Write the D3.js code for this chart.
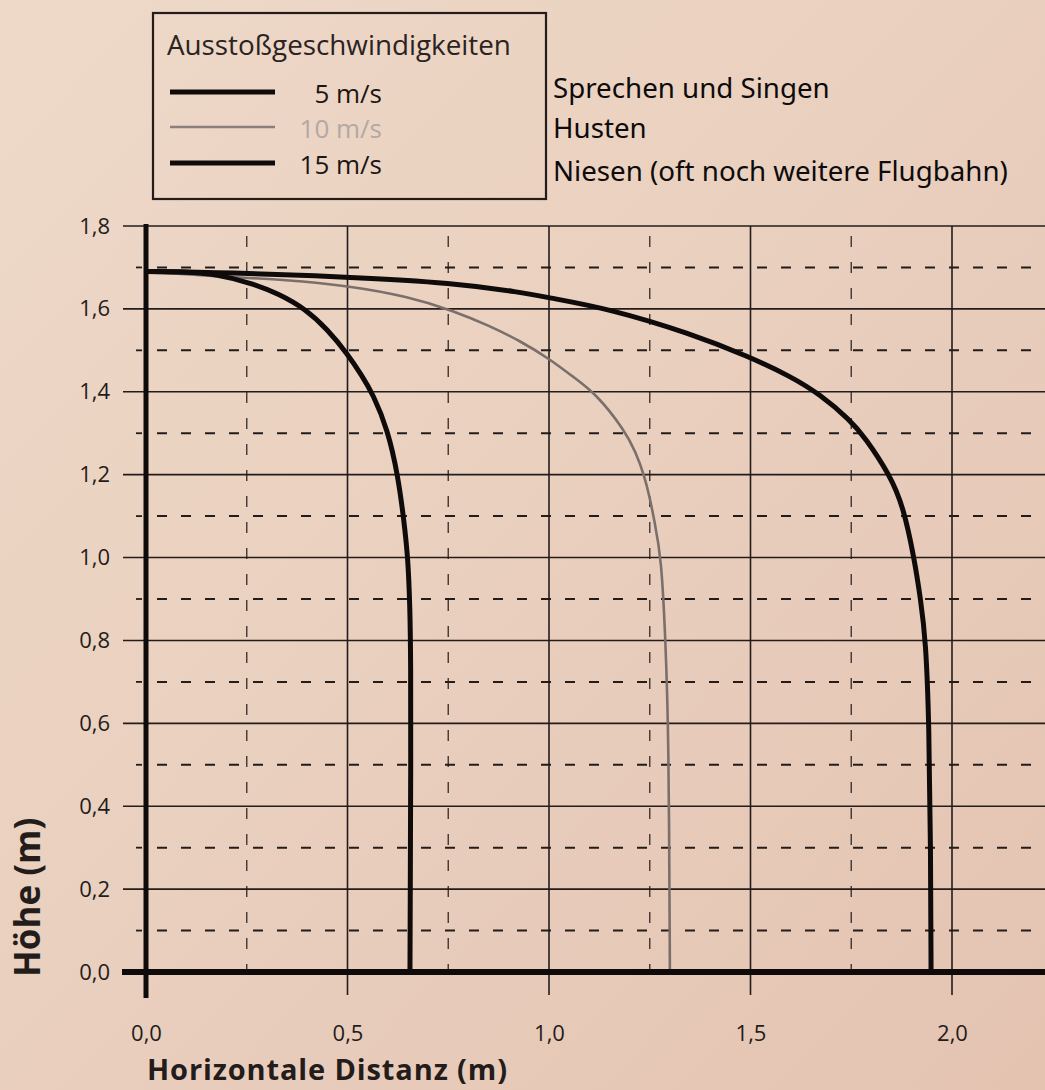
<!DOCTYPE html>
<html>
<head>
<meta charset="utf-8">
<script src="https://cdn.jsdelivr.net/npm/d3@7"></script>
<style>
  html, body { margin: 0; padding: 0; }
  body { width: 1045px; height: 1090px; overflow: hidden; }
</style>
</head>
<body>
<div class="graph"></div>
<script>
const width = 1045,
      height = 1090;

// data
const speedLabels = ["5 m/s", "10 m/s", "15 m/s"];
const noteLabels = ["Sprechen und Singen", "Husten", "Niesen (oft noch weitere Flugbahn)"];

const x5 = [0, 0.1, 0.176, 0.26, 0.33, 0.395, 0.45, 0.501, 0.535, 0.563, 0.6, 0.625, 0.64, 0.65, 0.655, 0.657, 0.657, 0.656, 0.655];
const y5 = [1.69, 1.69, 1.683, 1.663, 1.636, 1.6, 1.551, 1.49, 1.44, 1.395, 1.308, 1.199, 1.09, 1.0, 0.88, 0.75, 0.5, 0.25, 0];

const x10 = [0, 0.184, 0.35, 0.5, 0.65, 0.764, 0.85, 0.93, 1.0, 1.06, 1.117, 1.187, 1.215, 1.236, 1.25, 1.261, 1.279, 1.289, 1.297, 1.3];
const y10 = [1.69, 1.678, 1.67, 1.656, 1.63, 1.595, 1.56, 1.522, 1.48, 1.436, 1.395, 1.308, 1.255, 1.199, 1.145, 1.091, 1.0, 0.8, 0.58, 0];

const x15 = [0, 0.2, 0.5, 0.764, 0.93, 1.0, 1.15, 1.35, 1.496, 1.6, 1.672, 1.747, 1.784, 1.846, 1.879, 1.906, 1.922, 1.935, 1.943, 1.947, 1.948];
const y15 = [1.69, 1.688, 1.677, 1.663, 1.64, 1.627, 1.6, 1.541, 1.485, 1.437, 1.394, 1.332, 1.29, 1.199, 1.123, 1.0, 0.9, 0.8, 0.6, 0.3, 0];

const yMajor = [0, 0.2, 0.4, 0.6, 0.8, 1.0, 1.2, 1.4, 1.6, 1.8];
const yMinor = [0.1, 0.3, 0.5, 0.7, 0.9, 1.1, 1.3, 1.5, 1.7];
const xMajor = [0, 0.5, 1.0, 1.5, 2.0];
const xMinor = [0.25, 0.75, 1.25, 1.75];

const ink = "#231c1b";

const xScale = d3.scaleLinear().domain([0, 2]).range([146, 952]);
const yScale = d3.scaleLinear().domain([0, 1.8]).range([972, 226]);
const xRight = xScale.invert(width);

const de = d3.formatLocale({decimal: ",", thousands: ".", grouping: [3], currency: ["", " €"]});
const fmt = de.format(".1f");

const svg = d3.select(".graph")
  .append("svg")
  .attr("width", width)
  .attr("height", height);

const defs = svg.append("defs");
const grad = defs.append("linearGradient")
  .attr("id", "paper")
  .attr("x1", 0).attr("y1", 0).attr("x2", 1).attr("y2", 1);
grad.append("stop").attr("offset", "0%").attr("stop-color", "#eed9c8");
grad.append("stop").attr("offset", "55%").attr("stop-color", "#e9cebd");
grad.append("stop").attr("offset", "100%").attr("stop-color", "#e4c3b1");

svg.append("rect")
  .attr("width", width).attr("height", height)
  .attr("fill", "url(#paper)");

// grid
const grid = svg.append("g").attr("stroke", ink);

grid.selectAll(".hmaj")
  .data(yMajor.filter(d => d > 0))
  .enter().append("line")
  .attr("x1", 123).attr("x2", xScale(xRight))
  .attr("y1", d => yScale(d)).attr("y2", d => yScale(d))
  .attr("stroke-width", 1.6);

// small tick left of the axis, then the dashed line
grid.selectAll(".htick")
  .data(yMinor)
  .enter().append("line")
  .attr("x1", 136).attr("x2", 142)
  .attr("y1", d => yScale(d)).attr("y2", d => yScale(d))
  .attr("stroke-width", 1.8);

grid.selectAll(".hmin")
  .data(yMinor)
  .enter().append("line")
  .attr("x1", 157).attr("x2", xScale(xRight))
  .attr("y1", d => yScale(d)).attr("y2", d => yScale(d))
  .attr("stroke-width", 2)
  .attr("stroke-dasharray", "10,14");

grid.selectAll(".vmaj")
  .data(xMajor.filter(d => d > 0))
  .enter().append("line")
  .attr("x1", d => xScale(d)).attr("x2", d => xScale(d))
  .attr("y1", yScale(1.8)).attr("y2", 995)
  .attr("stroke-width", 1.6);

grid.selectAll(".vmin")
  .data(xMinor)
  .enter().append("line")
  .attr("x1", d => xScale(d)).attr("x2", d => xScale(d))
  .attr("y1", yScale(1.8) + 10).attr("y2", 985)
  .attr("stroke-width", 1.4)
  .attr("stroke-dasharray", "11,15")
  .attr("opacity", 0.85);

// curves
const line = d3.line()
  .x(d => xScale(d[0]))
  .y(d => yScale(d[1]))
  .curve(d3.curveBasis);

const series = [
  {xs: x10, ys: y10, color: "#7b6f6c", w: 2.6},
  {xs: x15, ys: y15, color: "#0f0b0b", w: 5},
  {xs: x5, ys: y5, color: "#0f0b0b", w: 5}
];

svg.selectAll(".curve")
  .data(series)
  .enter().append("path")
  .attr("class", "curve")
  .attr("fill", "none")
  .attr("stroke", d => d.color)
  .attr("stroke-width", d => d.w)
  .attr("stroke-linecap", "butt")
  .attr("d", d => line(d.xs.map((v, i) => [v, d.ys[i]])));

// axes lines
svg.append("line")
  .attr("x1", 122).attr("x2", width)
  .attr("y1", yScale(0)).attr("y2", yScale(0))
  .attr("stroke", "#0f0b0b").attr("stroke-width", 6);

svg.append("line")
  .attr("x1", xScale(0)).attr("x2", xScale(0))
  .attr("y1", yScale(1.8) - 2).attr("y2", 998)
  .attr("stroke", "#0f0b0b").attr("stroke-width", 5);

// tick labels
const yAxis = d3.axisLeft(yScale)
  .tickValues(yMajor)
  .tickFormat(fmt)
  .tickSize(0)
  .tickPadding(36);

svg.append("g")
  .attr("transform", "translate(146,0)")
  .call(yAxis)
  .call(g => g.select(".domain").remove())
  .selectAll("text")
  .attr("font-family", "'Open Sans', sans-serif")
  .attr("font-size", 22)
  .attr("fill", ink);

const xAxis = d3.axisBottom(xScale)
  .tickValues(xMajor)
  .tickFormat(fmt)
  .tickSize(0)
  .tickPadding(53);

svg.append("g")
  .attr("transform", "translate(0," + yScale(0) + ")")
  .call(xAxis)
  .call(g => g.select(".domain").remove())
  .selectAll("text")
  .attr("font-family", "'Open Sans', sans-serif")
  .attr("font-size", 22)
  .attr("fill", ink);

// axis titles
svg.append("text")
  .attr("x", 147).attr("y", 1080)
  .attr("font-family", "'Open Sans', sans-serif")
  .attr("font-weight", "bold")
  .attr("font-size", 29)
  .attr("textLength", 360)
  .attr("lengthAdjust", "spacing")
  .attr("fill", ink)
  .text("Horizontale Distanz (m)");

svg.append("text")
  .attr("transform", "translate(40,977) rotate(-90)")
  .attr("font-family", "'Open Sans', sans-serif")
  .attr("font-weight", "bold")
  .attr("font-size", 35)
  .attr("fill", ink)
  .text("Höhe (m)");

// legend
const legend = svg.append("g");
legend.append("rect")
  .attr("x", 153).attr("y", 13)
  .attr("width", 393).attr("height", 186)
  .attr("fill", "none")
  .attr("stroke", ink).attr("stroke-width", 2.2);

legend.append("text")
  .attr("x", 167).attr("y", 55)
  .attr("font-family", "'Open Sans', sans-serif")
  .attr("font-size", 27.8)
  .attr("fill", "#2a2322")
  .text("Ausstoßgeschwindigkeiten");

const legY = [92, 127, 163];
const legStyle = [
  {color: "#0f0b0b", w: 5, text: "#1b1515"},
  {color: "#8a7f7b", w: 2.6, text: "#b3a8a4"},
  {color: "#0f0b0b", w: 5, text: "#1b1515"}
];

speedLabels.forEach((s, i) => {
  legend.append("line")
    .attr("x1", 170).attr("x2", 275)
    .attr("y1", legY[i]).attr("y2", legY[i])
    .attr("stroke", legStyle[i].color)
    .attr("stroke-width", legStyle[i].w);
  legend.append("text")
    .attr("x", 382).attr("y", legY[i] + 11)
    .attr("text-anchor", "end")
    .attr("font-family", "'Open Sans', sans-serif")
    .attr("font-size", 26)
    .attr("fill", legStyle[i].text)
    .text(s);
});

const noteY = [98, 138, 181];
svg.selectAll(".note")
  .data(noteLabels)
  .enter().append("text")
  .attr("x", 553)
  .attr("y", (d, i) => noteY[i])
  .attr("font-family", "'Noto Sans', sans-serif")
  .attr("font-size", 27.7)
  .attr("fill", "#0d0b0b")
  .text(d => d);
</script>
</body>
</html>
